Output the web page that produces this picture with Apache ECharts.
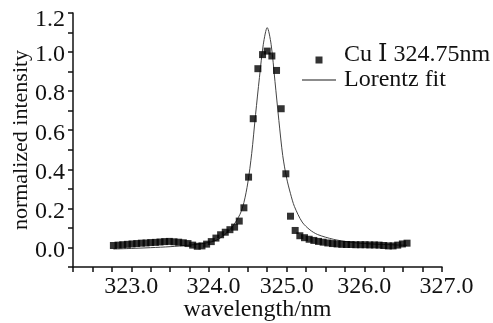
<!DOCTYPE html>
<html>
<head>
<meta charset="utf-8">
<script src="https://cdn.jsdelivr.net/npm/echarts@6/dist/echarts.min.js"></script>
<style>
  html, body { margin: 0; padding: 0; background: #fff; }
  #chart { width: 493px; height: 323px; }
</style>
</head>
<body>
<div id="chart"></div>
<script>
// 测量点 (wavelength / normalized intensity)
var dataX = [322.77, 322.83, 322.89, 322.95, 323.01, 323.07, 323.13, 323.19, 323.25, 323.31,
  323.37, 323.43, 323.49, 323.55, 323.61, 323.67, 323.73, 323.79, 323.85, 323.91,
  323.97, 324.03, 324.09, 324.15, 324.21, 324.27, 324.33, 324.39, 324.45, 324.51,
  324.57, 324.63, 324.69, 324.75, 324.81, 324.87, 324.93, 324.99, 325.05, 325.11,
  325.17, 325.23, 325.29, 325.35, 325.41, 325.47, 325.53, 325.59, 325.65, 325.71,
  325.77, 325.83, 325.89, 325.95, 326.01, 326.07, 326.13, 326.19, 326.25, 326.31,
  326.37, 326.43, 326.49, 326.55];
var dataY = [0.010, 0.012, 0.014, 0.016, 0.018, 0.020, 0.022, 0.023, 0.025, 0.026,
  0.028, 0.030, 0.031, 0.029, 0.027, 0.024, 0.020, 0.012, 0.006, 0.008,
  0.017, 0.030, 0.048, 0.065, 0.078, 0.091, 0.104, 0.135, 0.203, 0.360,
  0.659, 0.915, 0.987, 1.005, 0.980, 0.906, 0.710, 0.377, 0.160, 0.087,
  0.060, 0.050, 0.042, 0.036, 0.031, 0.027, 0.023, 0.020, 0.018, 0.016,
  0.015, 0.015, 0.014, 0.014, 0.014, 0.013, 0.013, 0.012, 0.010, 0.008,
  0.008, 0.012, 0.018, 0.022];

// Lorentz 拟合曲线
var fitX = [322.77, 323.0, 323.25, 323.5, 323.75, 323.95, 324.1, 324.2, 324.3, 324.4,
  324.45, 324.5, 324.55, 324.6, 324.65, 324.7, 324.75, 324.8, 324.85, 324.9,
  324.95, 325.0, 325.05, 325.1, 325.2, 325.3, 325.4, 325.6, 325.8, 326.0,
  326.2, 326.4, 326.55];
var fitY = [-0.008, -0.005, -0.001, 0.004, 0.012, 0.022, 0.038, 0.065, 0.105, 0.17,
  0.23, 0.33, 0.48, 0.68, 0.87, 1.04, 1.125, 1.04, 0.85, 0.65,
  0.47, 0.355, 0.275, 0.21, 0.13, 0.09, 0.066, 0.042, 0.028, 0.02,
  0.016, 0.013, 0.011];

var seriesNames = ['Cu Ⅰ 324.75nm', 'Lorentz fit'];
var xName = 'wavelength/nm';
var yName = 'normalized intensity';
var shiftedXLabels = [324, 327];

var font = '"Liberation Serif", "DejaVu Serif", serif';
var ink = '#111';

function pairs(xs, ys) {
  return xs.map(function (x, i) { return [x, ys[i]]; });
}

var chart = echarts.init(document.getElementById('chart'), null, { renderer: 'canvas' });

var option = {
  animation: false,
  backgroundColor: '#fff',
  grid: { left: 73, right: 51, top: 13, bottom: 56, outerBoundsMode: 'none', containLabel: false },
  legend: [
    {
      data: [{
        name: seriesNames[0],
        // 方块图例，放在偏下的位置
        icon: 'path://M0,0h0.01v0.01h-0.01z M10.5,10h7v7h-7z M33.99,16.99h0.01v0.01h-0.01z'
      }],
      left: 300, top: 38,
      itemWidth: 34, itemHeight: 17, itemGap: 0,
      itemStyle: { color: '#000' },
      textStyle: { fontFamily: font, fontSize: 24, color: ink }
    },
    {
      data: [{ name: seriesNames[1], icon: 'rect' }],
      left: 297, top: 63,
      itemWidth: 34, itemHeight: 1.3, itemGap: 0,
      itemStyle: { color: '#666' },
      textStyle: { fontFamily: font, fontSize: 24, color: ink, padding: [0, 0, 0, 3] }
    }
  ],
  xAxis: {
    type: 'value',
    min: 322.25, max: 327, interval: 0.25,
    name: xName, nameLocation: 'middle', nameGap: 31, nameMoveOverlap: false,
    nameTextStyle: { fontFamily: font, fontSize: 24, color: ink },
    axisLine: { onZero: false, lineStyle: { color: ink, width: 1.5 } },
    axisTick: { inside: false, length: 5, lineStyle: { color: ink, width: 1.5 } },
    splitLine: { show: false },
    axisLabel: {
      margin: 8, fontFamily: font, fontSize: 24, color: ink,
      showMinLabel: true, showMaxLabel: true, hideOverlap: false,
      formatter: function (v) {
        var r = Math.round(v);
        if (Math.abs(v - r) > 1e-6) return '';
        if (shiftedXLabels.indexOf(r) >= 0) return '{s|' + r.toFixed(1) + '}';
        return r.toFixed(1);
      },
      rich: { s: { fontFamily: font, fontSize: 24, color: ink, padding: [0, 0, 0, 9] } }
    }
  },
  yAxis: {
    type: 'value',
    min: -0.1, max: 1.2, interval: 0.1,
    name: yName, nameLocation: 'middle', nameGap: 41, nameMoveOverlap: false,
    nameTextStyle: { fontFamily: font, fontSize: 22, color: ink },
    axisLine: { show: true, lineStyle: { color: ink, width: 1.5 } },
    axisTick: { show: true, inside: false, length: 5, lineStyle: { color: ink, width: 1.5 } },
    splitLine: { show: false },
    axisLabel: {
      margin: 8, fontFamily: font, fontSize: 24, color: ink,
      padding: [6, 0, 0, 0], hideOverlap: false,
      formatter: function (v) {
        var k = Math.round(v * 10);
        if (k < 0 || k % 2 !== 0) return '';
        if (k === 12) return '{t|' + (k / 10).toFixed(1) + '}';
        return (k / 10).toFixed(1);
      },
      rich: { t: { fontFamily: font, fontSize: 24, color: ink, padding: [8, 0, 0, 0] } }
    }
  },
  series: [
    {
      name: seriesNames[0],
      type: 'scatter',
      symbol: 'rect',
      symbolSize: 7,
      itemStyle: { color: '#000' },
      data: pairs(dataX, dataY),
      z: 3
    },
    {
      name: seriesNames[1],
      type: 'line',
      smooth: 0.3,
      symbol: 'none',
      showSymbol: false,
      lineStyle: { color: '#444', width: 1 },
      itemStyle: { color: '#444' },
      data: pairs(fitX, fitY),
      z: 2
    }
  ]
};

chart.setOption(option);
</script>
</body>
</html>
